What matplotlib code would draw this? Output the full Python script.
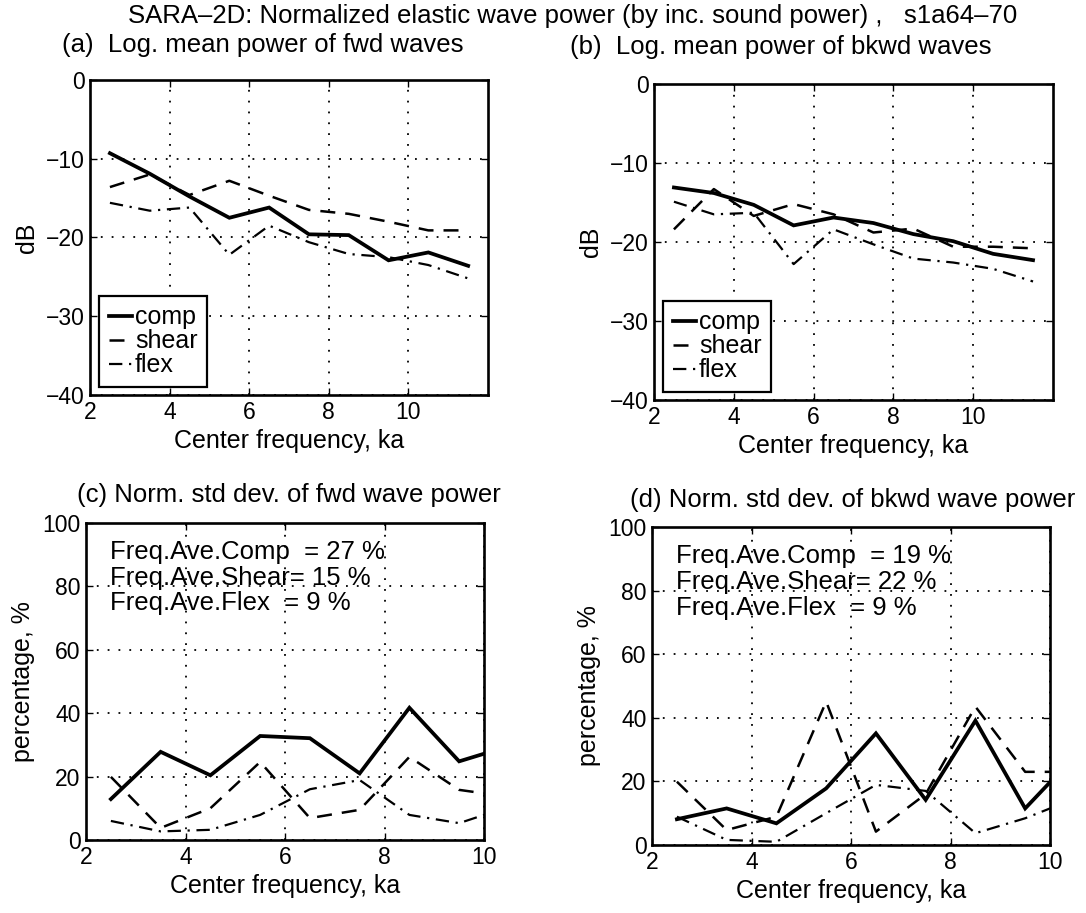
import matplotlib
matplotlib.use("Agg")
import matplotlib.pyplot as plt

plt.rcParams['font.family'] = ['Liberation Sans', 'DejaVu Sans']

# Center frequencies (ka)
freq_top = [2.5, 3.5, 4.5, 5.5, 6.5, 7.5, 8.5, 9.5, 10.5, 11.5]
freq_bot = [2.5, 3.5, 4.5, 5.5, 6.5, 7.5, 8.5, 9.5, 10.5]

# (a) log mean power of forward waves, dB
fwd_comp = [-9.3, -11.9, -14.8, -17.5, -16.2, -19.6, -19.7, -22.9, -21.9, -23.6]
fwd_shear = [-13.6, -12.0, -14.6, -12.8, -14.7, -16.5, -17.0, -18.0, -19.1, -19.1]
fwd_flex = [-15.6, -16.6, -16.2, -22.2, -18.5, -20.6, -22.1, -22.5, -23.5, -25.2]

# (b) log mean power of backward waves, dB
bkwd_comp = [-13.1, -13.8, -15.3, -17.9, -16.9, -17.6, -19.0, -19.9, -21.5, -22.3]
bkwd_shear = [-18.4, -13.3, -16.7, -15.2, -16.5, -18.8, -18.3, -20.6, -20.6, -20.8]
bkwd_flex = [-14.9, -16.5, -16.3, -22.8, -18.4, -20.3, -22.1, -22.6, -23.4, -25.0]

# (c) normalized std dev of forward wave power, %
fwd_comp_std = [12.9, 27.8, 20.4, 32.8, 32.1, 21.0, 41.7, 24.8, 29.6]
fwd_shear_std = [19.9, 3.8, 10.0, 24.6, 6.9, 9.5, 26.2, 15.8, 13.6]
fwd_flex_std = [6.0, 2.7, 3.2, 7.9, 16.0, 18.9, 7.9, 5.3, 10.5]

# (d) normalized std dev of backward wave power, %
bkwd_comp_std = [8.1, 11.5, 6.8, 17.8, 35.1, 14.2, 39.1, 11.5, 28.0]
bkwd_shear_std = [19.9, 4.7, 8.9, 45.1, 4.2, 16.0, 43.5, 23.0, 23.0]
bkwd_flex_std = [8.9, 1.6, 1.0, 10.0, 18.9, 17.0, 3.7, 8.4, 14.6]

fwd_avgs = [27, 15, 9]
bkwd_avgs = [19, 22, 9]

series_labels = ['comp', 'shear', 'flex']
xticks = [2, 4, 6, 8, 10]
db_ticks = [0, -10, -20, -30, -40]
pct_ticks = [0, 20, 40, 60, 80, 100]

TICK_FS = 16.5
LABEL_FS = 18
TITLE_FS = 18.5
styles = [
    dict(color='k', lw=2.7, linestyle='-'),
    dict(color='k', lw=1.8, linestyle=(0, (6, 4))),
    dict(color='k', lw=1.6, linestyle=(0, (6, 3, 1, 3))),
]

fig = plt.figure(figsize=(10.86, 9.13), dpi=100)
ax_a = fig.add_axes([0.0829, 0.5674, 0.3665, 0.3450])
ax_b = fig.add_axes([0.6022, 0.5619, 0.3674, 0.3461])
ax_c = fig.add_axes([0.0792, 0.0800, 0.3665, 0.3472])
ax_d = fig.add_axes([0.6004, 0.0745, 0.3665, 0.3483])


def style_axes(ax, xlim, ylim, yticks, ylabel):
    ax.set_xlim(*xlim)
    ax.set_ylim(*ylim)
    ax.set_xticks(xticks)
    ax.set_yticks(yticks)
    ax.tick_params(direction='in', length=5, width=1, top=True, right=True,
                   labelsize=TICK_FS, pad=4, colors='k')
    for s in ax.spines.values():
        s.set_linewidth(1.9)
    ax.grid(True, color='k', lw=1.3, linestyle=(0, (1, 5)))
    ax.set_axisbelow(True)
    ax.set_xlabel('Center frequency, ka', fontsize=LABEL_FS, labelpad=4)
    ax.set_ylabel(ylabel, fontsize=LABEL_FS, labelpad=5)


def draw(ax, x, ys):
    lines = []
    for y, st in zip(ys, styles):
        ln, = ax.plot(x, y, **st, solid_joinstyle='miter')
        lines.append(ln)
    return lines


for ax, ys in [(ax_a, [fwd_comp, fwd_shear, fwd_flex]),
               (ax_b, [bkwd_comp, bkwd_shear, bkwd_flex])]:
    lines = draw(ax, freq_top, ys)
    style_axes(ax, (2, 12), (-40, 0), db_ticks, 'dB')
    leg = ax.legend(lines, series_labels, loc='lower left',
                    bbox_to_anchor=(0.023, 0.026), borderaxespad=0,
                    fontsize=18, handlelength=0.95, handletextpad=0.1,
                    labelspacing=0.0, borderpad=0.38, fancybox=False,
                    framealpha=1, edgecolor='k')
    leg.get_frame().set_linewidth(1.6)

for ax, ys, avgs in [(ax_c, [fwd_comp_std, fwd_shear_std, fwd_flex_std], fwd_avgs),
                     (ax_d, [bkwd_comp_std, bkwd_shear_std, bkwd_flex_std], bkwd_avgs)]:
    draw(ax, freq_bot, ys)
    style_axes(ax, (2, 10), (0, 100), pct_ticks, 'percentage, %')
    texts = [f'Freq.Ave.Comp  = {avgs[0]} %',
             f'Freq.Ave.Shear= {avgs[1]} %',
             f'Freq.Ave.Flex  = {avgs[2]} %']
    for i, t in enumerate(texts):
        ax.text(2.48, 88.6 - 8.1 * i, t, fontsize=18.5, va='baseline', ha='left')

fig.text(0.527, 0.983,
         'SARA–2D: Normalized elastic wave power (by inc. sound power) ,   s1a64–70',
         fontsize=TITLE_FS, ha='center', va='center')
fig.text(62 / 1086, 0.951, '(a)  Log. mean power of fwd waves', fontsize=TITLE_FS,
         ha='left', va='center')
fig.text(570 / 1086, 0.949, '(b)  Log. mean power of bkwd waves', fontsize=TITLE_FS,
         ha='left', va='center')
fig.text(77 / 1086, 0.458, '(c) Norm. std dev. of fwd wave power', fontsize=TITLE_FS,
         ha='left', va='center')
fig.text(630 / 1086, 0.452, '(d) Norm. std dev. of bkwd wave power', fontsize=TITLE_FS,
         ha='left', va='center')

fig.savefig('out.png', dpi=100, facecolor='white')
